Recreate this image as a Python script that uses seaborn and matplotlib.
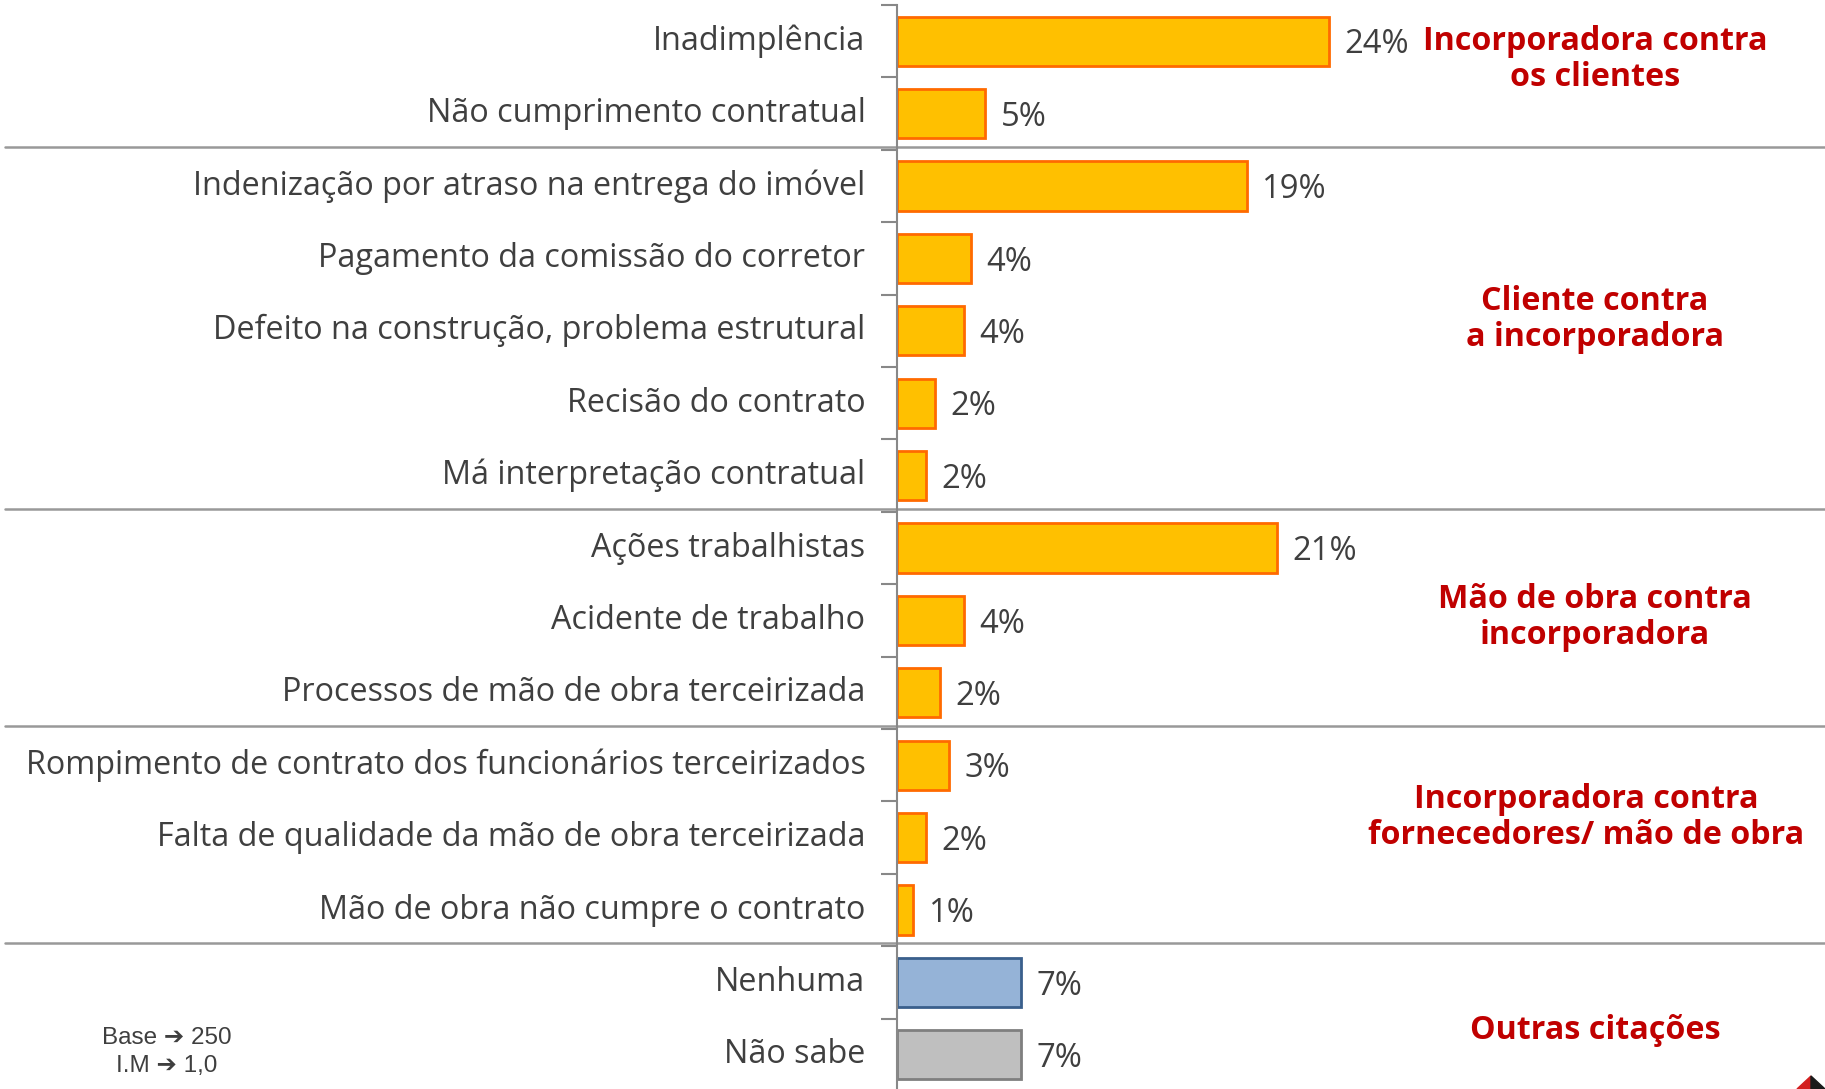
import seaborn as sns
import pandas as pd
import numpy as np
import matplotlib.pyplot as plt
from matplotlib import transforms
from matplotlib.patches import Polygon

categories = [
    "Inadimplência",
    "Não cumprimento contratual",
    "Indenização por atraso na entrega do imóvel",
    "Pagamento da comissão do corretor",
    "Defeito na construção, problema estrutural",
    "Recisão do contrato",
    "Má interpretação contratual",
    "Ações trabalhistas",
    "Acidente de trabalho",
    "Processos de mão de obra terceirizada",
    "Rompimento de contrato dos funcionários terceirizados",
    "Falta de qualidade da mão de obra terceirizada",
    "Mão de obra não cumpre o contrato",
    "Nenhuma",
    "Não sabe",
]
values = [24.0, 4.9, 19.4, 4.1, 3.7, 2.1, 1.6, 21.1, 3.7, 2.4, 2.9, 1.6, 0.9, 6.9, 6.9]
value_labels = ["24%", "5%", "19%", "4%", "4%", "2%", "2%", "21%", "4%", "2%", "3%", "2%", "1%", "7%", "7%"]

groups = ["Incorporadora contra\nos clientes",
          "Cliente contra\na incorporadora",
          "Mão de obra contra\nincorporadora",
          "Incorporadora contra\nfornecedores/ mão de obra",
          "Outras citações"]
group_rows = [0.25, 3.84, 7.96, 10.72, 13.67]
group_x = [1595, 1595, 1595, 1586, 1595]
separators = [1.5, 6.5, 9.5, 12.5]

fill_colors = ["#FFC000"] * 13 + ["#95B3D7", "#BFBFBF"]
edge_colors = ["#FF6A00"] * 13 + ["#3A5F8C", "#7F7F7F"]

df = pd.DataFrame({"cat": categories, "val": values})

sns.set_style("white")
plt.rcParams["font.family"] = ["Open Sans", "DejaVu Sans"]

fig = plt.figure(figsize=(18.25, 10.89), dpi=100)
ax = fig.add_axes([897 / 1825, -2 / 1089, 1 - 897 / 1825, 1 - 3 / 1089])

sns.barplot(data=df, x="val", y="cat", hue="cat", palette=fill_colors,
            saturation=1, legend=False, orient="h", width=0.68, ax=ax)
for bar, ec in zip(ax.patches, edge_colors):
    bar.set_edgecolor(ec)
    bar.set_linewidth(2)

ax.set_xlim(0, 51.5)
ax.set_ylim(14.5, -0.5)
ax.set_xlabel("")
ax.set_ylabel("")
ax.set_xticks([])
for s in ["top", "right", "bottom"]:
    ax.spines[s].set_visible(False)
ax.spines["left"].set_color("#888888")
ax.spines["left"].set_linewidth(1.5)

# ticks sit on the boundaries between categories
ax.set_yticks(np.arange(-0.5, 15, 1), minor=False)
ax.set_yticklabels([])
ax.tick_params(axis="y", length=11.5, width=1.5, color="#888888", left=True)
for i, c in enumerate(categories):
    ax.text(-1.75, i, c, ha="right", va="center", fontsize=23.3, color="#3F3F3F")

for i, (v, lab) in enumerate(zip(values, value_labels)):
    ax.text(v + 0.85, i + 0.05, lab, ha="left", va="center", fontsize=23.6, color="#3F3F3F")

# group separators run across the whole figure
trans = transforms.blended_transform_factory(fig.transFigure, ax.transData)
for s in separators:
    ax.plot([0.003, 1.0], [s - 0.04, s - 0.04], transform=trans, color="#999999", lw=1.8,
            clip_on=False)

for g, r, gx in zip(groups, group_rows, group_x):
    ax.text(gx / 1825, r, g, transform=trans, ha="center", va="center",
            fontsize=23.2, fontweight="bold", color="#C00000", linespacing=1.12)

fig.text(167 / 1825, 1 - 1038 / 1089, "Base ➔ 250", ha="center", va="center",
         fontsize=17.5, color="#3F3F3F", family=["Liberation Sans", "DejaVu Sans"])
fig.text(167 / 1825, 1 - 1066 / 1089, "I.M ➔ 1,0", ha="center", va="center",
         fontsize=17.5, color="#3F3F3F", family=["Liberation Sans", "DejaVu Sans"])

# small logo corner
fig.patches.append(Polygon([[1797 / 1825, 0], [1811 / 1825, 13 / 1089], [1811 / 1825, 0]],
                           closed=True, transform=fig.transFigure, color="#D32020"))
fig.patches.append(Polygon([[1811 / 1825, 0], [1811 / 1825, 13 / 1089], [1825 / 1825, 0]],
                           closed=True, transform=fig.transFigure, color="#1A1A1A"))

fig.savefig("out.png", dpi=100)
